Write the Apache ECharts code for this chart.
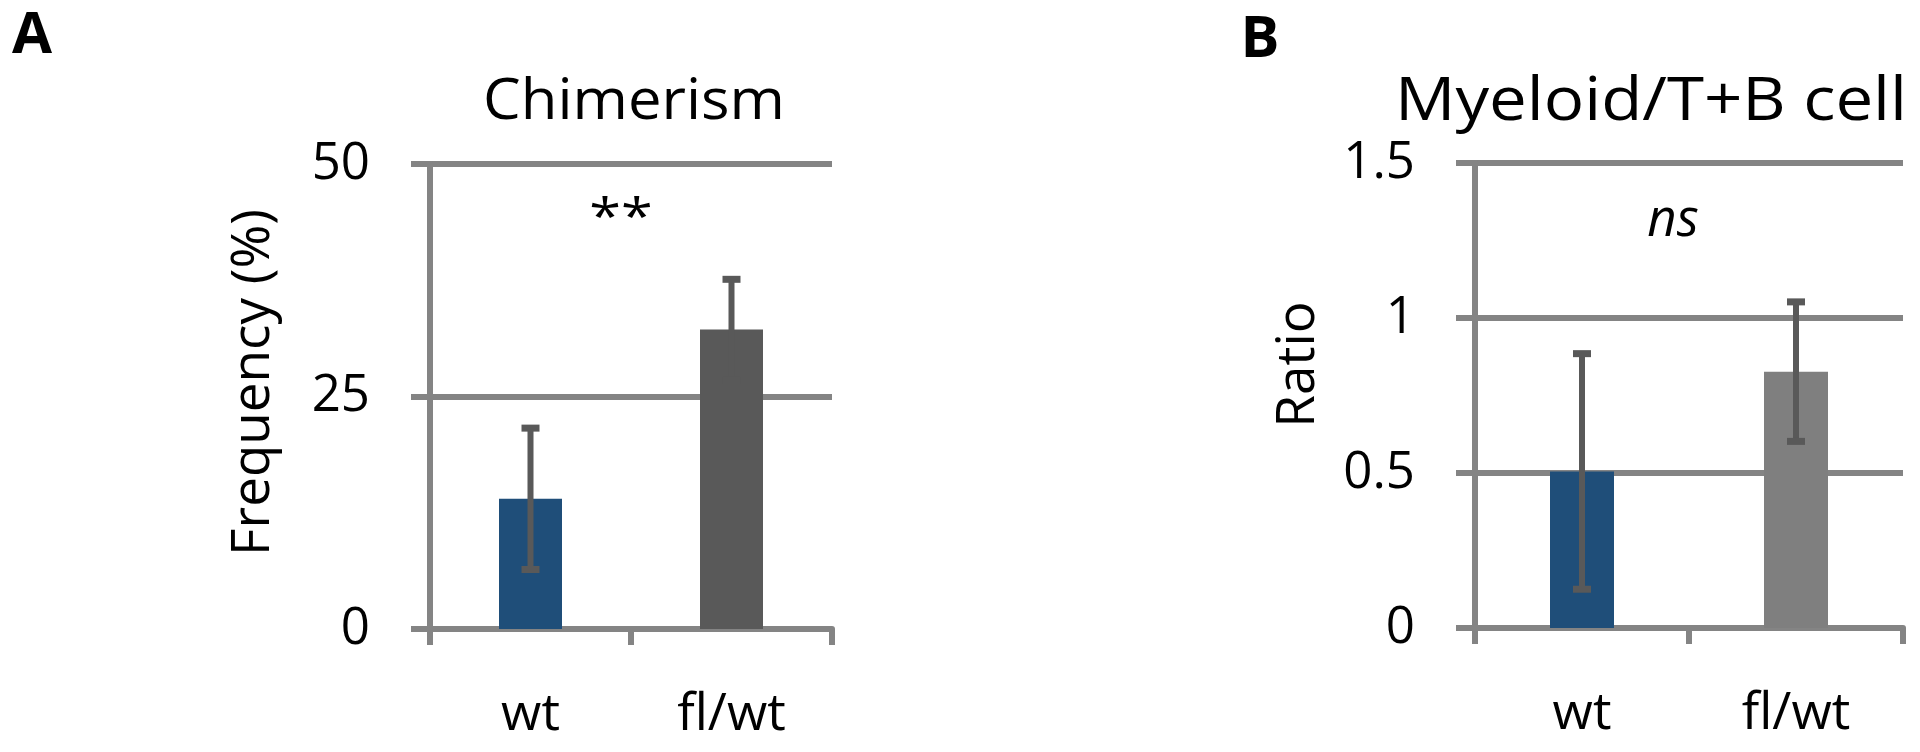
<!DOCTYPE html>
<html><head><meta charset="utf-8">
<script src="https://cdn.jsdelivr.net/npm/echarts@6/dist/echarts.min.js"></script>
<style>html,body{margin:0;padding:0;background:#fff}#c{width:1920px;height:752px}</style>
</head><body><div id="c"></div>
<script>
// ---- data ----
const categories = ['wt', 'fl/wt'];
const chimerismMean = [14.0, 32.2];
const chimerismErr = [7.6, 5.4];
const ratioMean = [0.505, 0.827];
const ratioErr = [0.38, 0.225];
const chimerismTicks = { min: 0, max: 50, interval: 25 };
const ratioTicks = { min: 0, max: 1.5, interval: 0.5 };
const colorsA = ['#1F4E79', '#595959'];
const colorsB = ['#1F4E79', '#7F7F7F'];
const panelTitles = ['Chimerism', 'Myeloid/T+B cell'];
const yNames = ['Frequency (%)', 'Ratio'];
const panelLetters = ['A', 'B'];
const annotations = ['**', 'ns'];

const FONT = 'Open Sans';
const AX = '#848484';
const ERR = '#595959';
const LW = 6;

function xAxisCfg(gi) {
  return {
    type: 'category', gridIndex: gi, data: categories,
    axisLine: { show: true, lineStyle: { color: AX, width: LW } },
    axisTick: { show: true, alignWithLabel: false, length: 16, lineStyle: { color: AX, width: LW } },
    axisLabel: { fontFamily: FONT, fontSize: 52, color: '#000', margin: 60 },
    splitLine: { show: false }
  };
}
function yAxisCfg(gi, t, name, shift, gap) {
  return {
    type: 'value', gridIndex: gi, min: t.min, max: t.max, interval: t.interval,
    name: name, nameLocation: 'middle', nameGap: gap, nameRotate: 90,
    nameTextStyle: { fontFamily: FONT, fontSize: 53, color: '#000', padding: [0, 0, 0, shift] },
    axisLine: { show: true, lineStyle: { color: AX, width: LW } },
    axisTick: { show: true, length: 19, lineStyle: { color: AX, width: LW } },
    splitLine: { show: true, lineStyle: { color: AX, width: LW } },
    axisLabel: { fontFamily: FONT, fontSize: 51, color: '#000', margin: 60 }
  };
}
function barSeries(gi, mean, colors, w) {
  return {
    type: 'bar', xAxisIndex: gi, yAxisIndex: gi, barWidth: w, z: 3,
    data: mean.map((v, i) => ({ value: v, itemStyle: { color: colors[i] } })),
    animation: false
  };
}
function errSeries(gi, mean, err) {
  return {
    type: 'custom', xAxisIndex: gi, yAxisIndex: gi, z: 5, animation: false,
    data: mean.map((v, i) => [i, v, err[i]]),
    encode: { x: 0, y: 1 },
    renderItem: function (params, api) {
      const x = api.value(0), m = api.value(1), e = api.value(2);
      const top = api.coord([x, m + e]);
      const bot = api.coord([x, m - e]);
      const hw = 9;
      const st = { stroke: ERR, lineWidth: LW };
      return {
        type: 'group', children: [
          { type: 'line', shape: { x1: top[0], y1: top[1], x2: bot[0], y2: bot[1] }, style: st },
          { type: 'line', shape: { x1: top[0] - hw, y1: top[1], x2: top[0] + hw, y2: top[1] }, style: { stroke: ERR, lineWidth: 7 } },
          { type: 'line', shape: { x1: bot[0] - hw, y1: bot[1], x2: bot[0] + hw, y2: bot[1] }, style: { stroke: ERR, lineWidth: 7 } }
        ]
      };
    }
  };
}

const chart = echarts.init(document.getElementById('c'), null, { renderer: 'canvas' });
chart.setOption({
  backgroundColor: '#fff',
  animation: false,
  grid: [
    { left: 430, top: 164, width: 402, height: 465 },
    { left: 1475, top: 163, width: 428, height: 465 }
  ],
  xAxis: [xAxisCfg(0), xAxisCfg(1)],
  yAxis: [yAxisCfg(0, chimerismTicks, yNames[0], 28, 150), yAxisCfg(1, ratioTicks, yNames[1], 62, 150)],
  series: [
    barSeries(0, chimerismMean, colorsA, 63),
    errSeries(0, chimerismMean, chimerismErr),
    barSeries(1, ratioMean, colorsB, 64),
    errSeries(1, ratioMean, ratioErr)
  ],
  graphic: [
    { type: 'text', x: 32, y: 36, style: { text: panelLetters[0], font: 'bold 58px "Open Sans"', fill: '#000', align: 'center', verticalAlign: 'middle' } },
    { type: 'text', x: 1260, y: 40, style: { text: panelLetters[1], font: 'bold 58px "Open Sans"', fill: '#000', align: 'center', verticalAlign: 'middle' } },
    { type: 'text', x: 634, y: 103, scaleX: 1.05, style: { text: panelTitles[0], font: '57px "Open Sans"', fill: '#000', align: 'center', verticalAlign: 'middle' } },
    { type: 'text', x: 1651, y: 103, scaleX: 1.12, style: { text: panelTitles[1], font: '60px "Open Sans"', fill: '#000', align: 'center', verticalAlign: 'middle' } },
    { type: 'text', x: 621, y: 220, scaleX: 1.15, style: { text: annotations[0], font: '50px "Open Sans"', fill: '#000', align: 'center', verticalAlign: 'middle' } },
    { type: 'text', x: 1673, y: 221, style: { text: annotations[1], font: 'italic 51px "Open Sans"', fill: '#000', align: 'center', verticalAlign: 'middle' } }
  ]
});
</script>
</body></html>
